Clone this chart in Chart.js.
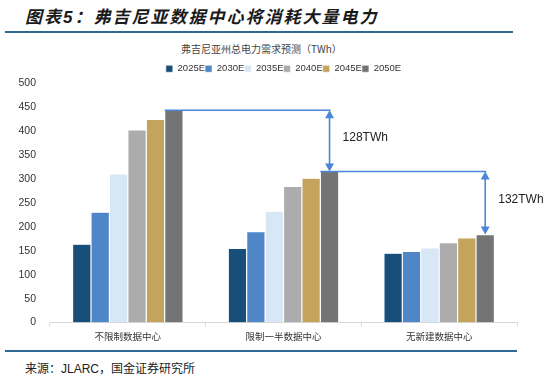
<!DOCTYPE html>
<html lang="zh">
<head>
<meta charset="UTF-8">
<title>弗吉尼亚数据中心将消耗大量电力</title>
<script src="https://cdn.jsdelivr.net/npm/chart.js"></script>
<style>
  body { margin: 0; width: 556px; height: 382px; background: #fff; position: relative; overflow: hidden;
         font-family: "Liberation Sans", "Noto Sans CJK SC", sans-serif; }
  .head { position: absolute; left: 25px; top: 3px; font-size: 17px; font-weight: bold; font-style: italic;
          letter-spacing: 2px; color: #1a1a1a; font-family: "Liberation Sans", "Noto Sans CJK SC", sans-serif; }
  .rule { position: absolute; left: 5px; height: 2px; background: #2b6a94; }
  .ctitle { position: absolute; left: 181px; top: 41px; font-size: 10px; color: #444;
            font-family: "Noto Sans CJK SC", sans-serif; }
  .src { position: absolute; left: 25px; top: 359px; font-size: 12px; color: #222;
         font-family: "Liberation Sans", "Noto Sans CJK SC", sans-serif; }
  .wrap { position: absolute; left: 0; top: 64px; width: 556px; height: 282px; }
</style>
</head>
<body>
<div class="head">图表5：弗吉尼亚数据中心将消耗大量电力</div>
<div class="rule" style="top:31px;width:508px"></div>
<div class="ctitle">弗吉尼亚州总电力需求预测（TWh）</div>
<div class="wrap"><canvas id="c"></canvas></div>
<div class="rule" style="top:350px;width:512px"></div>
<div class="src">来源：JLARC，国金证券研究所</div>

<script>
const categories = ['不限制数据中心', '限制一半数据中心', '无新建数据中心'];
const seriesNames = ['2025E', '2030E', '2035E', '2040E', '2045E', '2050E'];
const v2025 = [164, 155, 145];
const v2030 = [231, 190, 149];
const v2035 = [311, 233, 156];
const v2040 = [403, 285, 167];
const v2045 = [425, 302, 177];
const v2050 = [444, 316, 184];
const yTicks = [0, 50, 100, 150, 200, 250, 300, 350, 400, 450, 500];
const gapLabels = ['128TWh', '132TWh'];

const colors = ['#174f7a', '#4f86c8', '#d7e7f6', '#acacac', '#c4a35d', '#747474'];
const values = [v2025, v2030, v2035, v2040, v2045, v2050];

// arrows and lines between the 2050E bars
const gapPlugin = {
  id: 'gaps',
  afterDatasetsDraw(chart) {
    const ctx = chart.ctx;
    const y = chart.scales.y;
    const bars = chart.getDatasetMeta(5).data;
    const blue = '#4a86da';
    ctx.save();
    ctx.strokeStyle = blue;
    ctx.lineWidth = 1.6;
    for (let i = 0; i < 2; i++) {
      const a = bars[i], b = bars[i + 1];
      const yTop = y.getPixelForValue(v2050[i]);
      const yBot = y.getPixelForValue(v2050[i + 1]);
      const xLeft = a.x - a.width / 2;
      const xArrow = b.x;
      ctx.fillStyle = blue;
      ctx.beginPath();
      ctx.moveTo(xLeft, yTop);
      ctx.lineTo(xArrow + 1, yTop);
      ctx.stroke();
      ctx.beginPath();
      ctx.moveTo(xArrow, yTop + 6);
      ctx.lineTo(xArrow, yBot - 6);
      ctx.stroke();
      ctx.beginPath();
      ctx.moveTo(xArrow, yTop); ctx.lineTo(xArrow - 4.5, yTop + 8); ctx.lineTo(xArrow + 4.5, yTop + 8);
      ctx.closePath(); ctx.fill();
      ctx.beginPath();
      ctx.moveTo(xArrow, yBot); ctx.lineTo(xArrow - 4.5, yBot - 8); ctx.lineTo(xArrow + 4.5, yBot - 8);
      ctx.closePath(); ctx.fill();
      ctx.fillStyle = '#222';
      ctx.font = '12px "Liberation Sans", Arial, sans-serif';
      ctx.textBaseline = 'middle';
      ctx.fillText(gapLabels[i], xArrow + 13, (yTop + yBot) / 2 - 3);
    }
    ctx.restore();
  }
};

new Chart(document.getElementById('c'), {
  type: 'bar',
  data: {
    labels: categories,
    datasets: seriesNames.map((n, i) => ({
      label: n,
      data: values[i],
      backgroundColor: colors[i],
      borderColor: '#ffffff',
      borderWidth: 0.6,
      barPercentage: 1,
      categoryPercentage: 0.71
    }))
  },
  options: {
    responsive: true,
    maintainAspectRatio: false,
    animation: false,
    layout: { padding: { left: 0, right: 39, top: 0, bottom: 0 } },
    plugins: {
      legend: {
        fullSize: false,
        labels: {
          boxWidth: 7, boxHeight: 7, padding: 0,
          color: '#333',
          font: { size: 9.5, family: '"Liberation Sans", Arial, sans-serif' }
        }
      },
      tooltip: { enabled: false }
    },
    scales: {
      x: {
        grid: { display: true, drawOnChartArea: false, offset: true, tickLength: 4, color: '#d9d9d9' },
        border: { color: '#d9d9d9' },
        ticks: { color: '#333', padding: 4, font: { size: 9.5, family: '"Noto Sans CJK SC", sans-serif' } }
      },
      y: {
        min: 0, max: 500,
        afterBuildTicks(scale) { scale.ticks = yTicks.map(v => ({ value: v })); },
        afterFit(scale) { scale.width = 50; },
        grid: { display: false },
        border: { display: false },
        ticks: { color: '#333', padding: 6, font: { size: 10.5, family: '"Liberation Sans", Arial, sans-serif' } }
      }
    }
  },
  plugins: [gapPlugin]
});
</script>
</body>
</html>
